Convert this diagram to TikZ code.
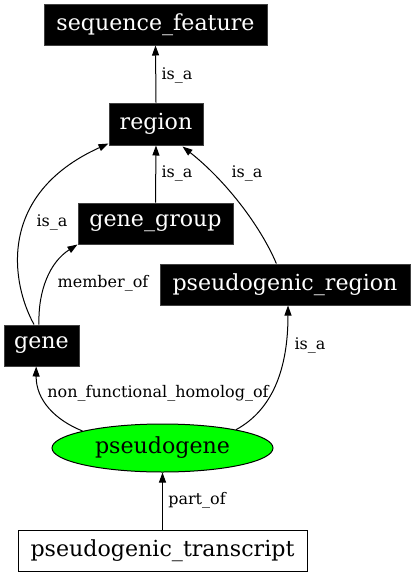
\documentclass[tikz,border=0pt]{standalone}
\usepackage{fontspec}
\setmainfont{DejaVu Serif}
\usetikzlibrary{arrows.meta,shapes.geometric}
\begin{document}
\begin{tikzpicture}[x=0.75pt,y=-0.75pt,
  blk/.style={rectangle,fill=black,draw=black!75,line width=0.75pt,text=white,inner sep=0pt,font=\fontsize{16.6}{18}\selectfont},
  wht/.style={rectangle,fill=white,draw=black,line width=0.75pt,text=black,inner sep=0pt,font=\fontsize{16.6}{18}\selectfont},
  ell/.style={ellipse,fill=green,draw=black,line width=0.75pt,inner sep=0pt,font=\fontsize{16.6}{18}\selectfont},
  rel/.style={-{Triangle[length=7.5pt,width=5.25pt]},black,line width=0.75pt},
  lbl/.style={font=\fontsize{12}{14}\selectfont,inner sep=0pt}]
\useasboundingbox (0,0) rectangle (413,576);
\node[blk,minimum width=223*0.75pt,minimum height=41*0.75pt] (sf) at (155.5,24.5) {sequence\_feature};
\node[blk,minimum width=94*0.75pt,minimum height=42*0.75pt] (reg) at (156,124) {region};
\node[blk,minimum width=155*0.75pt,minimum height=41*0.75pt] (gg) at (155.5,223.5) {gene\_group};
\node[blk,minimum width=250*0.75pt,minimum height=41*0.75pt] (pr) at (285,284.5) {pseudogenic\_region};
\node[blk,minimum width=75*0.75pt,minimum height=41*0.75pt] (gene) at (41.5,345.5) {gene};
\node[ell,minimum width=221*0.75pt,minimum height=48*0.75pt] (pg) at (162.5,448) {pseudogene};
\node[wht,minimum width=289*0.75pt,minimum height=41*0.75pt] (pt) at (162.5,550.5) {pseudogenic\_transcript};

\draw[rel] (reg.north) -- (sf.south);
\node[lbl] (l1) at (177,75) {is\_a};
\draw[rel] (gg.north) -- (reg.south);
\node[lbl] (l2) at (177,173) {is\_a};
\draw[rel] ([xshift=-5.6pt]gene.north) .. controls (12,285) and (-5,195) .. ([yshift=1.5pt]reg.south west);
\node[lbl] (l3) at (52,222) {is\_a};
\draw[rel] ([xshift=-6.5pt]pr.north) .. controls (260,225) and (225,180) .. ([xshift=55.5pt,yshift=-0.75pt]reg.south west);
\node[lbl] (l4) at (247,173) {is\_a};
\draw[rel] ([xshift=-1.9pt]gene.north) .. controls (38,290) and (50,262) .. (gg.south west);
\node[lbl] (l5) at (103,283) {member\_of};
\draw[rel] (pg.168) .. controls (55,420) and (36,400) .. ([xshift=-4pt]gene.south);
\node[lbl] (l6) at (158,393) {non\_functional\_homolog\_of};
\draw[rel] (pg.14.5) .. controls (272,410) and (288,370) .. ([xshift=2.25pt]pr.south);
\node[lbl] (l7) at (310,345) {is\_a};
\draw[rel] (pt.north) -- (pg.south);
\node[lbl] (l8) at (197,500) {part\_of};
\end{tikzpicture}
\end{document}
